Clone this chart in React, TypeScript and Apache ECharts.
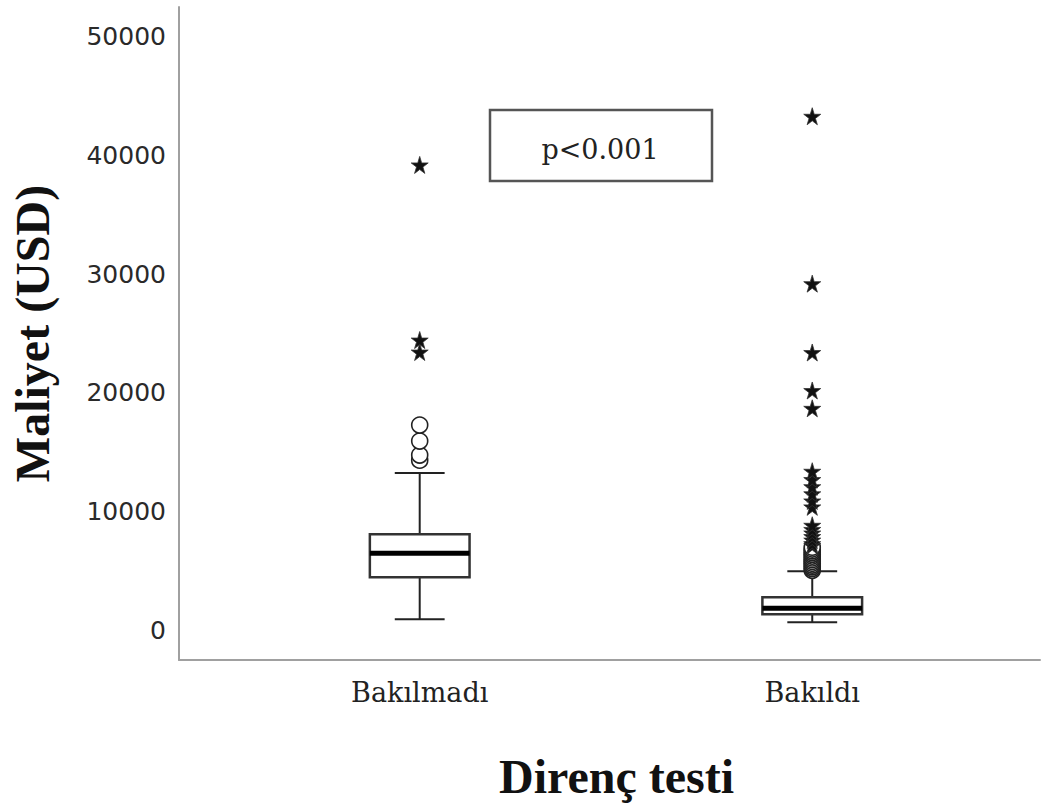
import React, { useEffect, useRef } from "react";
import * as echarts from "echarts";

const categories = ["Bakılmadı", "Bakıldı"];
const categoryX = [1, 2];
// [min whisker, Q1, median, Q3, max whisker]
const boxStats = [
  [930, 4470, 6490, 8100, 13240],
  [675, 1350, 1855, 2780, 4975],
];
const circleOutliersA = [14330, 14760, 15940, 17290];
const starOutliersA = [23440, 24450, 39200];
const circleOutliersB = [5050, 5200, 5350, 5500, 5650, 5800, 5950, 6100, 6250, 6400, 6550, 6700, 6850, 7000];
const starOutliersB = [7150, 7300, 7600, 7900, 8200, 8500, 8850, 10400, 10900, 11500, 12100, 12700, 13400, 18700, 20200, 23400, 29200, 43300];
const yTickLabels = [0, 10000, 20000, 30000, 40000, 50000];

const STAR = "path://M50,0 L61,35 L98,35 L68,57 L79,91 L50,70 L21,91 L32,57 L2,35 L39,35 Z";

export default function App() {
  const ref = useRef<HTMLDivElement>(null);
  useEffect(() => {
    if (!ref.current) return;
    const chart = echarts.init(ref.current, null, { renderer: "svg" });
    const boxData = boxStats.map((s, i) => [categoryX[i], ...s]);
    const circles = [
      ...circleOutliersA.map((v) => [categoryX[0], v]),
      ...circleOutliersB.map((v) => [categoryX[1], v]),
    ];
    const stars = [
      ...starOutliersA.map((v) => [categoryX[0], v]),
      ...starOutliersB.map((v) => [categoryX[1], v]),
    ];
    const option: any = {
      animation: false,
      grid: { left: 178, right: 2, top: 7, bottom: 145 },
      xAxis: {
        type: "value",
        min: 0.3868,
        max: 2.5802,
        axisLine: { show: true, onZero: false, lineStyle: { color: "#a0a0a0", width: 2 } },
        axisTick: { show: false },
        splitLine: { show: false },
        axisLabel: {
          customValues: categoryX,
          formatter: (v: number) => {
            const i = categoryX.indexOf(v);
            return i >= 0 ? categories[i] : "";
          },
          fontFamily: "DejaVu Serif",
          fontSize: 27,
          color: "#222",
          margin: 19,
        },
        name: "Direnç testi",
        nameLocation: "middle",
        nameGap: 92,
        nameTextStyle: {
          fontFamily: "Liberation Serif",
          fontWeight: "bold",
          fontSize: 48,
          color: "#111",
          padding: [0, 0, 0, 14],
        },
      },
      yAxis: {
        type: "value",
        min: -2500,
        max: 52500,
        interval: 2500,
        axisLine: { show: true, onZero: false, lineStyle: { color: "#a0a0a0", width: 2 } },
        axisTick: { show: false },
        splitLine: { show: false },
        axisLabel: {
          formatter: (v: number) => (yTickLabels.indexOf(v) >= 0 ? String(v) : ""),
          fontFamily: "DejaVu Sans",
          fontSize: 25,
          color: "#2a2a2a",
          margin: 13,
        },
        name: "Maliyet (USD)",
        nameLocation: "middle",
        nameRotate: 90,
        nameGap: 123,
        nameTextStyle: { fontFamily: "Liberation Serif", fontWeight: "bold", fontSize: 48, color: "#111" },
      },
      series: [
        {
          type: "custom",
          data: boxData,
          encode: { x: 0, y: [1, 2, 3, 4, 5] },
          z: 2,
          renderItem: (params: any, api: any) => {
            const x = api.value(0);
            const p = [1, 2, 3, 4, 5].map((i) => api.coord([x, api.value(i)]));
            const bw = api.size([0.254, 0])[0];
            const cw = api.size([0.127, 0])[0];
            const cx = p[0][0];
            const stroke = { stroke: "#222", lineWidth: 2 };
            return {
              type: "group",
              children: [
                { type: "line", shape: { x1: cx, y1: p[0][1], x2: cx, y2: p[1][1] }, style: stroke },
                { type: "line", shape: { x1: cx, y1: p[3][1], x2: cx, y2: p[4][1] }, style: stroke },
                { type: "line", shape: { x1: cx - cw / 2, y1: p[0][1], x2: cx + cw / 2, y2: p[0][1] }, style: stroke },
                { type: "line", shape: { x1: cx - cw / 2, y1: p[4][1], x2: cx + cw / 2, y2: p[4][1] }, style: stroke },
                {
                  type: "rect",
                  shape: { x: cx - bw / 2, y: p[3][1], width: bw, height: p[1][1] - p[3][1] },
                  style: { fill: "#fff", stroke: "#333", lineWidth: 2.5 },
                },
                {
                  type: "line",
                  shape: { x1: cx - bw / 2, y1: p[2][1], x2: cx + bw / 2, y2: p[2][1] },
                  style: { stroke: "#000", lineWidth: 5 },
                },
              ],
            };
          },
        },
        {
          type: "scatter",
          data: circles,
          symbol: "circle",
          symbolSize: 16,
          itemStyle: { color: "#fff", borderColor: "#222", borderWidth: 1.6, opacity: 1 },
          z: 3,
        },
        {
          type: "scatter",
          data: stars,
          symbol: STAR,
          symbolSize: 17,
          itemStyle: { color: "#111", borderColor: "#333", borderWidth: 0.8, opacity: 1 },
          z: 4,
        },
      ],
      graphic: [
        {
          type: "rect",
          shape: { x: 490, y: 110, width: 222, height: 71 },
          style: { fill: "#fff", stroke: "#555", lineWidth: 2.5 },
          z: 10,
        },
        {
          type: "text",
          x: 600,
          y: 149,
          style: {
            text: "p<0.001",
            fontFamily: "DejaVu Serif",
            fontSize: 27,
            fill: "#222",
            align: "center",
            verticalAlign: "middle",
          },
          z: 11,
        },
      ],
    };
    chart.setOption(option);
    return () => chart.dispose();
  }, []);
  return (
    <div
      ref={ref}
      style={{ position: "absolute", left: 0, top: 0, width: 1042, height: 805, background: "#fff" }}
    />
  );
}
